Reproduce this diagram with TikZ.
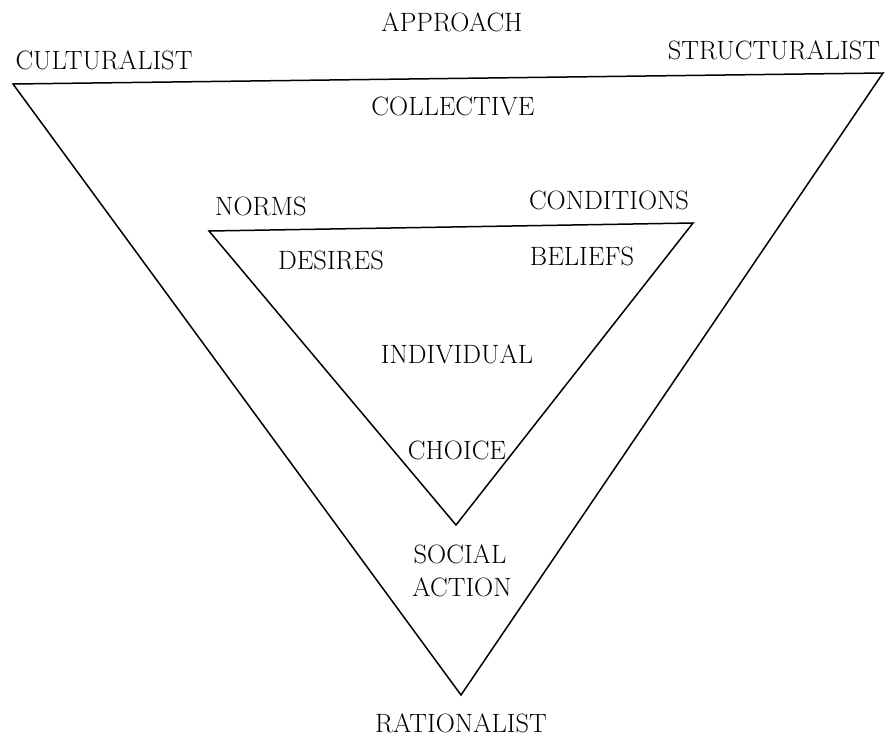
\documentclass[tikz,border=0pt]{standalone}
\usepackage{tikz}

\begin{document}
\begin{tikzpicture}[x=1pt, y=-1pt, font=\fontsize{26.5}{30}\selectfont, inner sep=0pt, line width=1.5pt]
	\useasboundingbox (0,0) rectangle (885,737);
	% outer triangle
	\coordinate (ol) at (13, 84);
	\coordinate (or) at (883, 73);
	\coordinate (ob) at (461, 695);
	\draw (ol) -- (or) -- (ob) -- cycle;
	
	% inner triangle
	\coordinate (il) at (209, 231);
	\coordinate (ir) at (693, 223);
	\coordinate (ib) at (456, 525);
	\draw (il) -- (ir) -- (ib) -- cycle;
	
	% approaches
	\node (approach) at (452, 22) {APPROACH};
	\node (cult) at (104, 60) {CULTURALIST};
	\node (struct) at (774, 50) {STRUCTURALIST};
	\node (rat) at (461, 723) {RATIONALIST};
	
	% levels
	\node (coll) at (453, 106) {COLLECTIVE};
	\node (indiv) at (457, 354) {INDIVIDUAL};
	
	\node (norms) at (261, 206) {NORMS};
	\node (cond) at (609, 200) {CONDITIONS};
	\node (desires) at (331, 260) {DESIRES};
	\node (beliefs) at (582, 256) {BELIEFS};
	\node (choice) at (457, 450) {CHOICE};
	
	\node (social) at (460, 554) {SOCIAL};
	\node (action) at (462, 587) {ACTION};
\end{tikzpicture}
\end{document}
